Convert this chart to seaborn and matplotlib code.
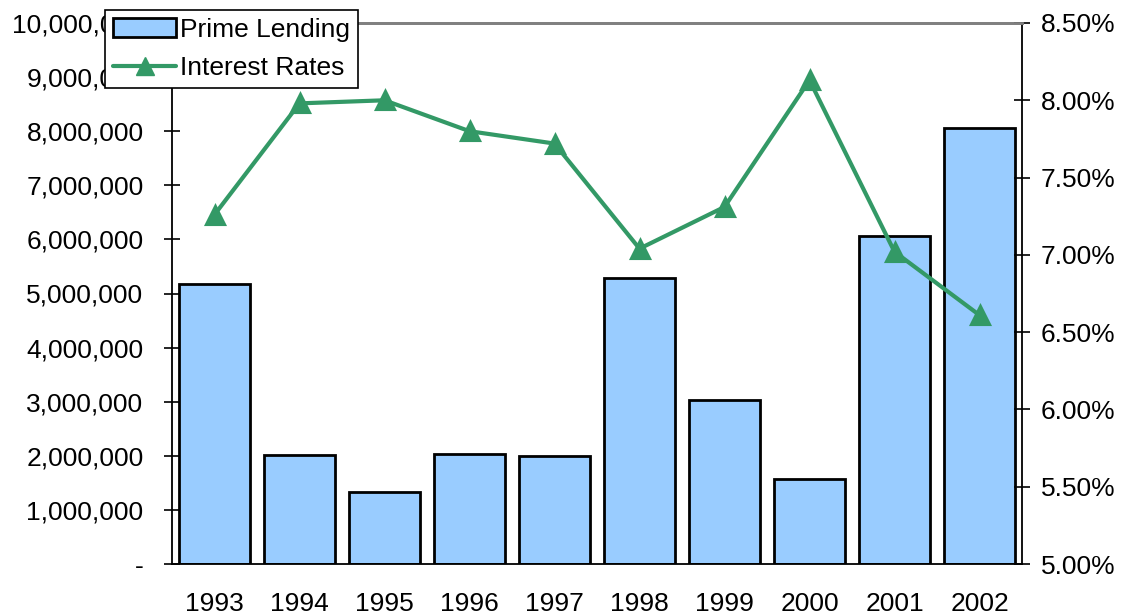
import numpy as np
import pandas as pd
import matplotlib
matplotlib.use("Agg")
import matplotlib.pyplot as plt
from matplotlib.ticker import FuncFormatter, MultipleLocator, FixedLocator
from matplotlib.patches import Patch
from matplotlib.lines import Line2D
import seaborn as sns

# data
years = ["1993", "1994", "1995", "1996", "1997", "1998", "1999", "2000", "2001", "2002"]
lending = [5180000, 2020000, 1330000, 2030000, 2000000, 5290000, 3030000, 1570000, 6060000, 8060000]
rates = [7.26, 7.98, 8.00, 7.80, 7.72, 7.04, 7.31, 8.13, 7.02, 6.61]

title = "Prime Lending"
bar_label = "Prime Lending"
line_label = "Interest Rates"

bar_color = "#99CCFF"
line_color = "#339966"

sns.set_style("white")
plt.rcParams["font.family"] = ["Liberation Sans", "DejaVu Sans"]
plt.rcParams["text.color"] = "black"
plt.rcParams["xtick.color"] = "black"
plt.rcParams["ytick.color"] = "black"
plt.rcParams["axes.labelcolor"] = "black"

W, H = 1122, 614
fig = plt.figure(figsize=(W / 100, H / 100), dpi=100)
ax = fig.add_axes([172 / W, 1 - 564 / H, 850 / W, 541 / H])

df = pd.DataFrame({"year": years, "lending": lending, "rate": rates})

sns.barplot(data=df, x="year", y="lending", ax=ax, color=bar_color,
            saturation=1, edgecolor="black", linewidth=2, width=0.83)

ax2 = ax.twinx()
sns.pointplot(data=df, x="year", y="rate", ax=ax2, color=line_color,
              markers="^", linestyles="-", markersize=13, linewidth=3)

ax.set_xlim(-0.5, len(years) - 0.5)
ax.set_ylim(0, 10_000_000)
ax2.set_ylim(5.0, 8.5)

ax.yaxis.set_major_locator(MultipleLocator(1_000_000))
ax.yaxis.set_major_formatter(FuncFormatter(lambda v, p: "-" if v == 0 else f"{v:,.0f}"))
ax2.yaxis.set_major_locator(MultipleLocator(0.5))
ax2.yaxis.set_major_formatter(FuncFormatter(lambda v, p: f"{v:.2f}%"))

# tick marks sit between the categories, labels in the middle
ax.xaxis.set_minor_locator(FixedLocator(np.arange(-0.5, len(years), 1.0)))
ax.tick_params(axis="x", which="major", length=0, pad=20, labelsize=19)
ax.tick_params(axis="x", which="minor", length=11, width=1.2, direction="inout", color="black")
ax.tick_params(axis="y", length=11, width=1.2, direction="inout", pad=15, labelsize=19,
               left=True, color="black")
ax2.tick_params(axis="y", length=11, width=1.2, direction="inout", pad=8, labelsize=19,
                right=True, color="black")

ax.set_xlabel("")
ax.set_ylabel("")
ax2.set_xlabel("")
ax2.set_ylabel("")

for a in (ax, ax2):
    for side in ("left", "right", "bottom"):
        a.spines[side].set_color("black")
        a.spines[side].set_linewidth(1.3)
    a.spines["top"].set_color("#808080")
    a.spines["top"].set_linewidth(2)
ax.spines["right"].set_visible(False)
ax2.spines["left"].set_visible(False)
ax2.spines["bottom"].set_visible(False)

# title sits above the canvas, only the descender of the g shows
fig.text(563 / W, 1 + 6 / H, title, ha="right", va="baseline",
         fontsize=20, fontweight="bold")

handles = [
    Patch(facecolor=bar_color, edgecolor="black", linewidth=2),
    Line2D([], [], color=line_color, linewidth=3, marker="^", markersize=13),
]
leg = fig.legend(handles, [bar_label, line_label], loc="upper left",
                 bbox_to_anchor=(105 / W, 1 - 10 / H), bbox_transform=fig.transFigure,
                 borderaxespad=0, fontsize=19, fancybox=False, framealpha=1,
                 edgecolor="black", handlelength=2.4, handletextpad=0.15,
                 labelspacing=0.55, borderpad=0.3)
leg.get_frame().set_linewidth(1.2)

fig.savefig("out.png", dpi=100)
